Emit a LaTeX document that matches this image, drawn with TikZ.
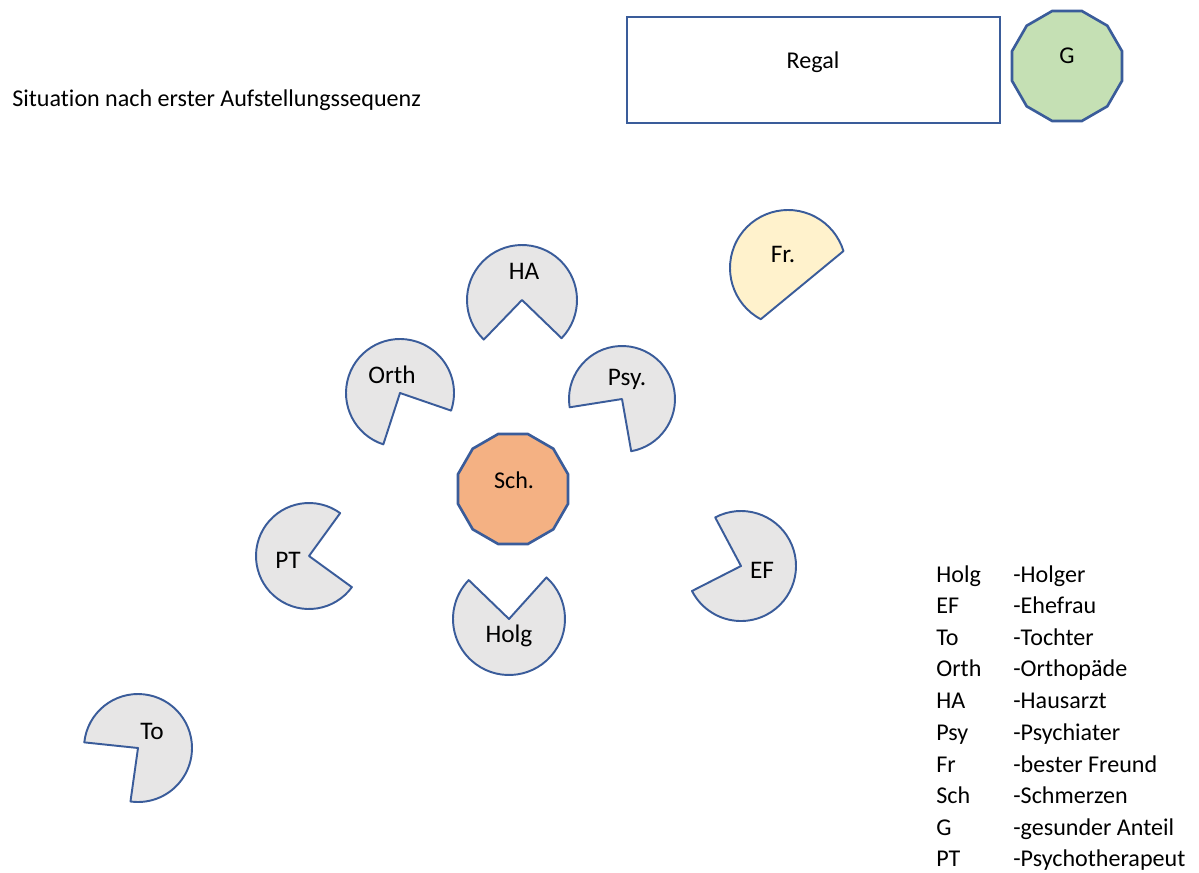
\documentclass[tikz,border=0pt]{standalone}
\usepackage{fontspec}
\setmainfont{Carlito}[Ligatures=NoCommon]
\usetikzlibrary{shapes.geometric}
\definecolor{rand}{HTML}{3A5C9A}
\definecolor{grau}{HTML}{E7E6E6}
\definecolor{gelb}{HTML}{FFF2CC}
\definecolor{gruen}{HTML}{C5E0B4}
\definecolor{lachs}{HTML}{F4B183}
\tikzset{>=latex}

\begin{document}
\begin{tikzpicture}[x=0.02cm, y=-0.02cm,
    every node/.style={font=\fontsize{13.7}{16}\selectfont, inner sep=0pt},
    figur/.style={draw=rand, line width=1.1pt, fill=grau, line join=round},
    kuerzel/.style={anchor=base, font=\fontsize{14.4}{17}\selectfont},
    zwoelfeck/.style={regular polygon, regular polygon sides=12, draw=rand, line width=1.5pt, minimum size=2.28cm}]
    \useasboundingbox (0,0) rectangle (1199,872);
    \node[anchor=base west] (titel) at (12,106) {Situation nach erster Aufstellungssequenz};

    \draw[rand, line width=1.5pt] (627,17) rectangle (1000,123);
    \node[anchor=base] (regal) at (813,68) {Regal};
    \node[zwoelfeck, fill=gruen] (g) at (1067,66) {};
    \node[anchor=base] (glabel) at (1067,63) {G};

    \draw[figur, fill=gelb] (788,268) ++(118:58) arc[start angle=118, end angle=343, radius=58] -- cycle;
    \node[kuerzel] (fr) at (783,262) {Fr.};

    \draw[figur] (522,300) -- ++(134:55) arc[start angle=134, end angle=404, radius=55] -- cycle;
    \node[kuerzel] (ha) at (524,279) {HA};
    \draw[figur] (400,393) -- ++(108:54) arc[start angle=108, end angle=379, radius=54] -- cycle;
    \node[kuerzel] (orth) at (392,383) {Orth};
    \draw[figur] (622,399) -- ++(171:53) arc[start angle=171, end angle=440, radius=53] -- cycle;
    \node[kuerzel] (psy) at (627,385) {Psy.};

    \node[zwoelfeck, fill=lachs] (sch) at (513,489) {};
    \node[anchor=base] (schlabel) at (514,488) {Sch.};

    \draw[figur] (309,556) -- ++(36:53) arc[start angle=36, end angle=306, radius=53] -- cycle;
    \node[kuerzel] (pt) at (288,568) {PT};
    \draw[figur] (509,619) -- ++(312:56) arc[start angle=312, end angle=584, radius=56] -- cycle;
    \node[kuerzel] (holg) at (509,642) {Holg};
    \draw[figur] (741,566) -- ++(242:55) arc[start angle=242, end angle=513, radius=55] -- cycle;
    \node[kuerzel] (ef) at (762,578) {EF};
    \draw[figur] (138,748) -- ++(186:54) arc[start angle=186, end angle=458, radius=54] -- cycle;
    \node[kuerzel] (to) at (152,739) {To};

    % Legende
    \node[anchor=base west] (k1) at (936,582) {Holg};  \node[anchor=base west] (v1) at (1013,582) {-Holger};
    \node[anchor=base west] (k2) at (936,613) {EF};    \node[anchor=base west] (v2) at (1013,613) {-Ehefrau};
    \node[anchor=base west] (k3) at (936,645) {To};    \node[anchor=base west] (v3) at (1013,645) {-Tochter};
    \node[anchor=base west] (k4) at (936,676) {Orth};  \node[anchor=base west] (v4) at (1013,676) {-Orthopäde};
    \node[anchor=base west] (k5) at (936,708) {HA};    \node[anchor=base west] (v5) at (1013,708) {-Hausarzt};
    \node[anchor=base west] (k6) at (936,740) {Psy};   \node[anchor=base west] (v6) at (1013,740) {-Psychiater};
    \node[anchor=base west] (k7) at (936,772) {Fr};    \node[anchor=base west] (v7) at (1013,772) {-bester Freund};
    \node[anchor=base west] (k8) at (936,803) {Sch};   \node[anchor=base west] (v8) at (1013,803) {-Schmerzen};
    \node[anchor=base west] (k9) at (936,835) {G};     \node[anchor=base west] (v9) at (1013,835) {-gesunder Anteil};
    \node[anchor=base west] (k10) at (936,866) {PT};   \node[anchor=base west] (v10) at (1013,866) {-Psychotherapeut};
\end{tikzpicture}
\end{document}
